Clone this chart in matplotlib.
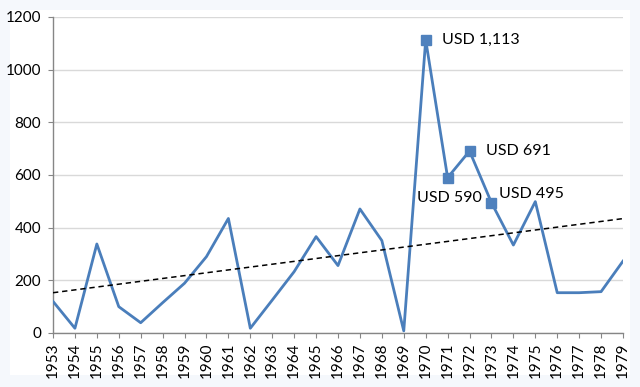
import numpy as np
import matplotlib
matplotlib.use("Agg")
import matplotlib.pyplot as plt
from matplotlib.patches import Rectangle

plt.rcParams['font.family'] = ['Lato', 'DejaVu Sans']

# Values
years = list(range(1953, 1980))
values = [120, 18, 338, 100, 39, 115, 189, 290, 435, 18,
          125, 233, 366, 256, 471, 351, 8, 1113, 590, 691,
          495, 334, 499, 153, 153, 157, 273]

# highlighted points and their labels
hl_years = [1970, 1971, 1972, 1973]
hl_labels = ['USD 1,113', 'USD 590', 'USD 691', 'USD 495']

LINE_COLOR = '#4a7ebb'
MARKER_COLOR = '#4f81bd'
AXIS_COLOR = '#868686'
GRID_COLOR = '#d9d9d9'


def main():
    fig = plt.figure(figsize=(6.4, 3.87), dpi=100)
    fig.patch.set_facecolor('#f5f8fc')
    # white chart area
    fig.patches.append(Rectangle((10 / 640, 12 / 387), 620 / 640, 365 / 387,
                                 transform=fig.transFigure, facecolor='white',
                                 edgecolor='none', zorder=-1))

    ax = fig.add_axes([53 / 640, 1 - 333 / 387, 570 / 640, 316 / 387])
    ax.set_zorder(2)
    ax.set_facecolor('white')

    x = np.array(years)
    y = np.array(values)
    ax.plot(x, y, color=LINE_COLOR, linewidth=2.0, zorder=3)

    # linear trend line
    k, b = np.polyfit(x, y, 1)
    ax.plot(x, k * x + b, color='black', linestyle=(0, (3.5, 2.5)),
            linewidth=1.1, zorder=4)

    hx = np.array(hl_years)
    hy = np.array([values[years.index(v)] for v in hl_years])
    ax.plot(hx, hy, linestyle='none', marker='s', markersize=7,
            color=MARKER_COLOR, zorder=5)

    offsets = {
        1970: ((11.5, 0), 'left', 'center'),
        1971: ((1, -15), 'center', 'center'),
        1972: ((11.5, 0), 'left', 'center'),
        1973: ((5.5, 6), 'left', 'center'),
    }
    for yr, val, lab in zip(hx, hy, hl_labels):
        off, ha, va = offsets[yr]
        ax.annotate(lab, (yr, val), xytext=off, textcoords='offset points',
                    ha=ha, va=va, fontsize=11.5, color='black', zorder=6)

    ax.set_xlim(1953, 1979)
    ax.set_ylim(0, 1200)
    ax.set_yticks(range(0, 1201, 200))
    ax.set_xticks(years)
    ax.set_xticklabels([str(v) for v in years], rotation=90)

    ax.grid(axis='y', color=GRID_COLOR, linewidth=1.0)
    ax.set_axisbelow(True)
    for s in ['top', 'right']:
        ax.spines[s].set_visible(False)
    for s in ['left', 'bottom']:
        ax.spines[s].set_color(AXIS_COLOR)
        ax.spines[s].set_linewidth(1.0)
    ax.tick_params(axis='y', length=3.5, color=AXIS_COLOR, labelsize=11, pad=5)
    ax.tick_params(axis='x', length=3.5, color=AXIS_COLOR, labelsize=11, pad=3)

    fig.savefig('out.png', dpi=100, facecolor=fig.get_facecolor())


if __name__ == "__main__":
    main()
